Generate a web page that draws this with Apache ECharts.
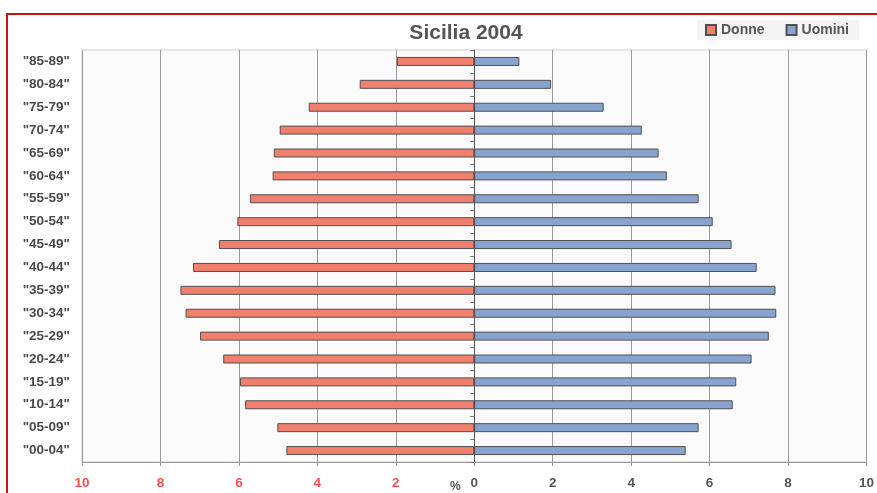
<!DOCTYPE html>
<html>
<head>
<meta charset="utf-8">
<script src="https://cdn.jsdelivr.net/npm/echarts@6/dist/echarts.min.js"></script>
<style>
html,body{margin:0;padding:0;background:#fff;}
#chart{width:877px;height:493px;}
</style>
</head>
<body>
<div id="chart"></div>
<script>
// Data (bottom to top)
var categories = ['"00-04"','"05-09"','"10-14"','"15-19"','"20-24"','"25-29"','"30-34"','"35-39"','"40-44"','"45-49"','"50-54"','"55-59"','"60-64"','"65-69"','"70-74"','"75-79"','"80-84"','"85-89"'];
var donne  = [4.79, 5.02, 5.84, 5.97, 6.40, 6.99, 7.36, 7.49, 7.17, 6.51, 6.04, 5.72, 5.14, 5.11, 4.96, 4.22, 2.92, 1.97];
var uomini = [5.39, 5.72, 6.59, 6.68, 7.07, 7.51, 7.70, 7.68, 7.20, 6.56, 6.08, 5.72, 4.91, 4.70, 4.27, 3.30, 1.96, 1.15];
var xTicks = { min: -10, max: 10, interval: 2 };

var chart = echarts.init(document.getElementById('chart'));
var font = 'Liberation Sans, Arial, sans-serif';
chart.setOption({
  animation: false,
  backgroundColor: '#ffffff',
  textStyle: { fontFamily: font },
  title: {
    text: 'Sicilia 2004',
    left: 461, top: 18, textAlign: 'center',
    textStyle: { fontFamily: font, fontSize: 21, fontWeight: 'bold', color: '#555555' }
  },
  legend: {
    data: ['Donne', 'Uomini'],
    left: 697, top: 20,
    padding: [3, 10, 3, 8],
    backgroundColor: '#f4f4f4',
    itemWidth: 10, itemHeight: 10, itemGap: 21,
    icon: 'rect',
    textStyle: { fontFamily: font, fontSize: 14, fontWeight: 'bold', color: '#555555' }
  },
  grid: {
    left: 82, right: 10, top: 50, bottom: 31,
    show: true, backgroundColor: '#fbfbfb', borderColor: '#cccccc', borderWidth: 1,
    containLabel: false
  },
  xAxis: {
    type: 'value', min: xTicks.min, max: xTicks.max, interval: xTicks.interval,
    axisLine: { show: true, onZero: false, lineStyle: { color: '#999999', width: 1 } },
    axisTick: { show: true, length: 4, lineStyle: { color: '#999999' } },
    splitLine: { show: true, lineStyle: { color: '#9a9a9a', width: 1 } },
    axisLabel: {
      margin: 14, fontSize: 13.5, fontWeight: 'bold', fontFamily: font,
      formatter: function (v) { return String(Math.abs(v)); },
      color: function (v) { return Number(v) < 0 ? '#ff4d4d' : '#555555'; }
    }
  },
  yAxis: [
    {
      type: 'category', data: categories, position: 'left',
      axisLine: { show: false, onZero: false }, axisTick: { show: false },
      axisLabel: { margin: 12, fontSize: 13.5, fontWeight: 'bold', color: '#4a4a4a', fontFamily: font }
    },
    {
      type: 'category', data: categories, position: 'left',
      axisLine: { show: true, onZero: true, onZeroAxisIndex: 0, lineStyle: { color: '#555555', width: 1 } },
      axisTick: { show: true, length: 4, lineStyle: { color: '#777777' } },
      axisLabel: { show: false }
    }
  ],
  series: [
    {
      name: 'Donne', type: 'bar', barWidth: 9, barGap: '-100%',
      data: donne.map(function (v) { return -v; }),
      itemStyle: { color: '#f07f6e', borderColor: '#505050', borderWidth: 1 }
    },
    {
      name: 'Uomini', type: 'bar', barWidth: 9, barGap: '-100%',
      data: uomini,
      itemStyle: { color: '#88a4ce', borderColor: '#505050', borderWidth: 1 }
    }
  ],
  graphic: [
    {
      type: 'rect', z: 100, silent: true,
      shape: { x: 7, y: 14, width: 900, height: 520 },
      style: { fill: 'none', stroke: '#cc1111', lineWidth: 2 }
    },
    {
      type: 'text', left: 450, top: 481, z: 100,
      style: { text: '%', fontSize: 12, fontWeight: 'bold', fill: '#555555', fontFamily: font }
    }
  ]
});
</script>
</body>
</html>
